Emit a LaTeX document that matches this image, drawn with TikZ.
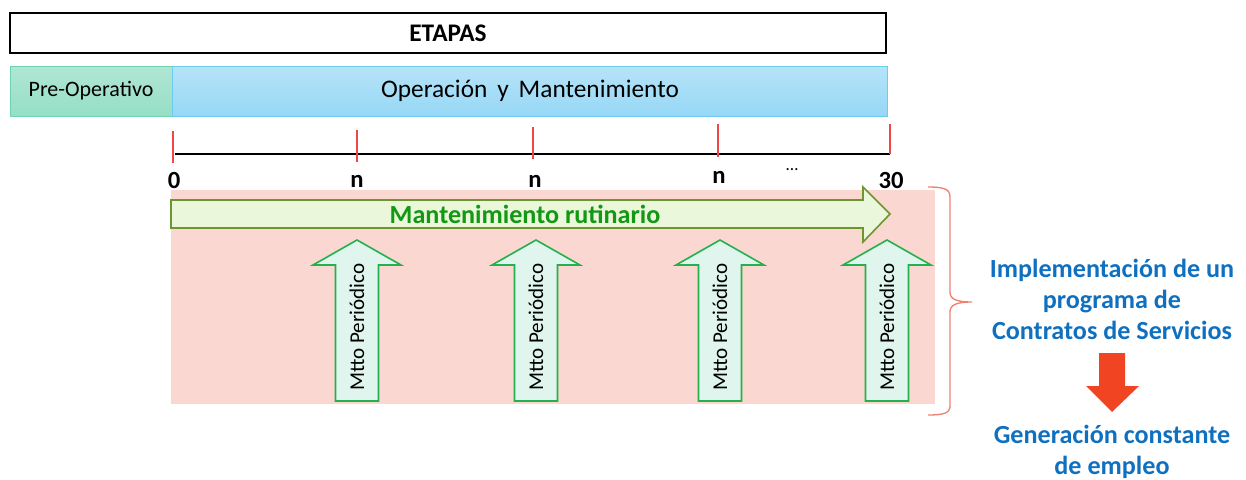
\documentclass[tikz,border=0pt]{standalone}
\usepackage{fontspec}
\setmainfont{Carlito}
\usepackage{tikz}

\definecolor{pinkbg}{RGB}{250,215,208}
\definecolor{greenfill}{RGB}{235,247,218}
\definecolor{olivedraw}{RGB}{110,150,46}
\definecolor{mintfill}{RGB}{223,245,238}
\definecolor{mintdraw}{RGB}{34,177,76}
\definecolor{textgreen}{RGB}{18,152,18}
\definecolor{textblue}{RGB}{16,112,192}
\definecolor{arrowred}{RGB}{240,68,35}
\definecolor{bracered}{RGB}{240,128,112}
\definecolor{tickred}{RGB}{240,70,70}

\tikzset{
  ticklbl/.style={font=\fontsize{18.5}{21}\selectfont\bfseries, inner sep=0.75pt},
  mttolbl/.style={font=\fontsize{15.8}{18}\selectfont, rotate=90, inner sep=0.75pt},
  bluelbl/.style={font=\fontsize{19.6}{23.2}\selectfont\bfseries, text=textblue, align=center, inner sep=0.75pt}
}

\begin{document}
\begin{tikzpicture}[x=0.75pt,y=0.75pt,yscale=-1,xscale=1]
    \useasboundingbox (0,0) rectangle (1246,479);

    %Shape: Rectangle etapas
    \draw [line width=1.5]  (10,13) -- (886,13) -- (886,53) -- (10,53) -- cycle ;
    \node (etapas) at (448,33) [font=\fontsize{19}{22}\selectfont\bfseries] {ETAPAS};

    %Shape: Rectangle pre-operativo
    \draw [draw={rgb,255:red,110;green,212;blue,176}, top color={rgb,255:red,176;green,231;blue,213}, bottom color={rgb,255:red,150;green,222;blue,198}]  (10,66) -- (172,66) -- (172,116) -- (10,116) -- cycle ;
    %Shape: Rectangle operacion
    \draw [draw={rgb,255:red,110;green,203;blue,240}, top color={rgb,255:red,182;green,228;blue,248}, bottom color={rgb,255:red,150;green,215;blue,246}]  (172,66) -- (887,66) -- (887,116) -- (172,116) -- cycle ;
    \node (preop) at (91,91) [font=\fontsize{16.5}{20}\selectfont] {Pre-Operativo};
    \node (operacion) at (530,91) [font=\fontsize{19}{22}\selectfont] {Operación\, y\, Mantenimiento};

    %Straight Lines timeline
    \draw [line width=1.8]  (175,154) -- (890,154) ;
    %ticks
    \draw [color=tickred, line width=0.8]  (173,131) -- (173,163) ;
    \draw [color=tickred, line width=0.8]  (357,130) -- (357,162) ;
    \draw [color=tickred, line width=0.8]  (533,127) -- (533,159) ;
    \draw [color=tickred, line width=0.8]  (718,124) -- (718,157) ;
    \draw [color=tickred, line width=0.8]  (890,124) -- (890,154) ;

    % Text Node ticks
    \node (t0) at (174,180) [ticklbl] {0};
    \node (t1) at (357,181) [ticklbl] {n};
    \node (t2) at (535,181) [ticklbl] {n};
    \node (t3) at (719,177) [ticklbl] {n};
    \node (tdots) at (792,170) [font=\fontsize{13}{15}\selectfont, inner sep=0.75pt] {\dots};
    \node (t30) at (891,180) [ticklbl] {30};

    %Shape: Rectangle pink background
    \fill [pinkbg]  (171,190) -- (935,190) -- (935,404) -- (171,404) -- cycle ;

    %Shape: Right Arrow
    \draw [draw=olivedraw, fill=greenfill, line width=1.2]  (171,200) -- (863,200) -- (863,187) -- (890,214) -- (863,242) -- (863,228) -- (171,228) -- cycle ;
    \node (rutinario) at (525,214) [font=\fontsize{19.6}{22}\selectfont\bfseries, text=textgreen] {Mantenimiento rutinario};

    %Shape: Up Arrows
    \foreach \cx/\nm in {357/a, 536/b, 720/c, 887/d}{
      \draw [draw=mintdraw, fill=mintfill, line width=1.2]  (\cx-21.5,401) -- (\cx-21.5,265) -- (\cx-44,265) -- (\cx,240) -- (\cx+44,265) -- (\cx+21.5,265) -- (\cx+21.5,401) -- cycle ;
      \node (mtto\nm) at (\cx,327) [mttolbl] {Mtto Periódico};
    }

    %Shape: Right Brace
    \draw [color=bracered, line width=1]  (928,187) .. controls (944,187) and (950,189) .. (950,197) -- (950,292) .. controls (950,299) and (956,302) .. (972,302) .. controls (956,302) and (950,305) .. (950,312) -- (950,406) .. controls (950,413) and (944,415) .. (928,415) ;

    % Text Node
    \node (programa) at (1112,299) [bluelbl] {Implementación de un\\programa de\\Contratos de Servicios};

    %Shape: Down Arrow
    \fill [arrowred]  (1099,353) -- (1125,353) -- (1125,386) -- (1139,386) -- (1112,412) -- (1086,386) -- (1099,386) -- cycle ;

    % Text Node
    \node (empleo) at (1112,452) [bluelbl] {Generación constante\\de empleo};

\end{tikzpicture}
\end{document}
